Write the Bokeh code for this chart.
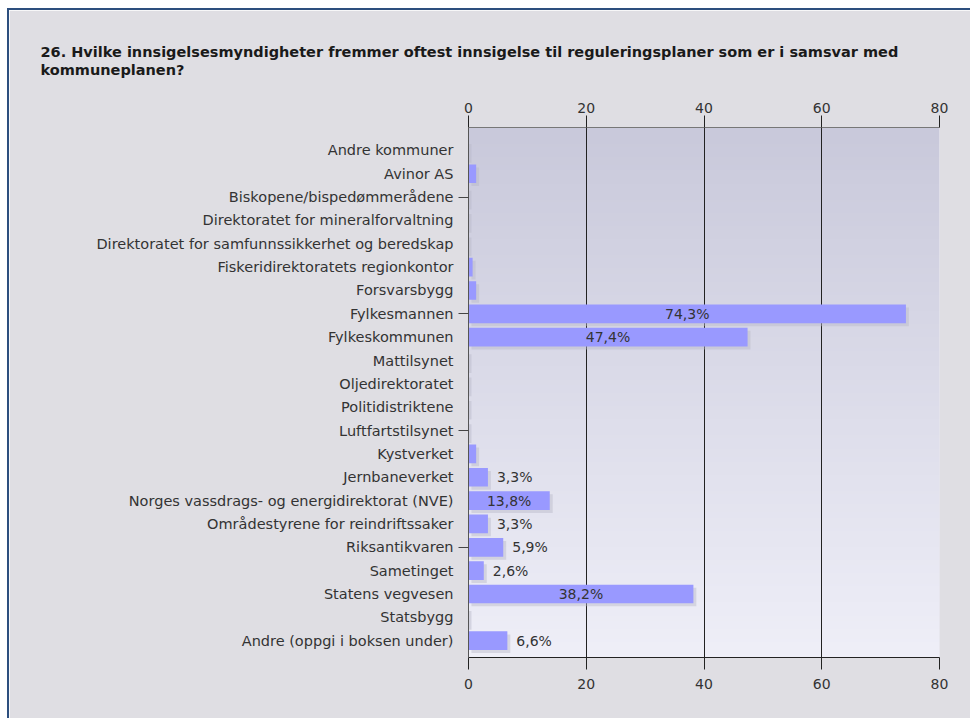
import numpy as np
from bokeh.plotting import figure
from bokeh.models import Range1d, LinearAxis, FixedTicker, ColumnDataSource, Title
from bokeh.core.properties import value
from bokeh.embed import file_html
from bokeh.resources import INLINE

title_lines = [
    "26. Hvilke innsigelsesmyndigheter fremmer oftest innsigelse til reguleringsplaner som er i samsvar med",
    "kommuneplanen?",
]
categories = [
    "Andre kommuner",
    "Avinor AS",
    "Biskopene/bispedømmerådene",
    "Direktoratet for mineralforvaltning",
    "Direktoratet for samfunnssikkerhet og beredskap",
    "Fiskeridirektoratets regionkontor",
    "Forsvarsbygg",
    "Fylkesmannen",
    "Fylkeskommunen",
    "Mattilsynet",
    "Oljedirektoratet",
    "Politidistriktene",
    "Luftfartstilsynet",
    "Kystverket",
    "Jernbaneverket",
    "Norges vassdrags- og energidirektorat (NVE)",
    "Områdestyrene for reindriftssaker",
    "Riksantikvaren",
    "Sametinget",
    "Statens vegvesen",
    "Statsbygg",
    "Andre (oppgi i boksen under)",
]
values = [0, 1.3, 0, 0, 0, 0.7, 1.3, 74.3, 47.4, 0, 0, 0, 0, 1.3, 3.3, 13.8, 3.3, 5.9, 2.6, 38.2, 0, 6.6]
x_ticks = [0, 20, 40, 60, 80]
marked_categories = [2, 7, 12, 17]

FONT = "DejaVu Sans"
n = len(categories)
ypos = [n - 1 - i for i in range(n)]

W, H = 963, 710
ML, MR, MT, MB = 459, 33, 117, 63
p = figure(width=W, height=H, output_backend="svg", toolbar_location=None,
           x_range=Range1d(0, 80), y_range=Range1d(-0.72, n - 1 + 0.98),
           min_border_left=ML, min_border_right=MR, min_border_top=MT, min_border_bottom=MB,
           x_axis_location=None, y_axis_location=None)
p.styles = {"margin-top": "8px", "margin-left": "7px",
            "border-top": "2px solid #2d4f7e", "border-left": "2px solid #2d4f7e",
            "border-right": "none", "border-bottom": "none"}
p.background_fill_color = "#dddce8"
p.border_fill_color = "#dfdee3"
p.outline_line_color = None

# gradient background of plot area
top_c = np.array([0xC9, 0xC9, 0xDB])
bot_c = np.array([0xEF, 0xEF, 0xF8])
rows = 200
t = np.linspace(0, 1, rows)[:, None]
cols = bot_c * (1 - t) + top_c * t
img = np.zeros((rows, 1), dtype=np.uint32)
view = img.view(dtype=np.uint8).reshape((rows, 1, 4))
view[:, 0, 0] = cols[:, 0].astype(np.uint8)
view[:, 0, 1] = cols[:, 1].astype(np.uint8)
view[:, 0, 2] = cols[:, 2].astype(np.uint8)
view[:, 0, 3] = 255
yr = p.y_range
p.image_rgba(image=[img], x=0, y=yr.start, dw=80, dh=yr.end - yr.start, level="image")

# axes
ax_b = LinearAxis(ticker=FixedTicker(ticks=x_ticks))
ax_t = LinearAxis(ticker=FixedTicker(ticks=x_ticks))
for ax, lc, so in ((ax_b, "#222222", 9), (ax_t, "#777777", 3)):
    ax.axis_line_color = lc
    ax.major_tick_line_color = "#222222"
    ax.major_tick_out = 12
    ax.major_tick_in = 0
    ax.minor_tick_line_color = None
    ax.major_label_text_font = FONT
    ax.major_label_text_font_size = "14px"
    ax.major_label_text_color = "#333333"
    ax.major_label_standoff = so
p.add_layout(ax_b, "below")
p.add_layout(ax_t, "above")

ax_l = LinearAxis(ticker=FixedTicker(ticks=ypos, minor_ticks=[ypos[i] for i in marked_categories]))
ax_l.major_label_overrides = {ypos[i]: categories[i] for i in range(n)}
ax_l.axis_line_color = "#555555"
ax_l.major_tick_line_color = None
ax_l.major_tick_out = 0
ax_l.minor_tick_line_color = "#444444"
ax_l.minor_tick_out = 10
ax_l.minor_tick_in = 0
ax_l.major_label_standoff = 5
ax_l.major_label_text_font = FONT
ax_l.major_label_text_font_size = "14.5px"
ax_l.major_label_text_color = "#333333"
p.add_layout(ax_l, "left")

p.xgrid.ticker = FixedTicker(ticks=x_ticks)
p.xgrid.grid_line_color = "#222222"
p.xgrid.grid_line_width = 1
p.ygrid.grid_line_color = None

src = ColumnDataSource(dict(y=ypos, v=values,
                            sy=[y - 0.13 for y in ypos],
                            sl=[0.5] * n,
                            sr=[v + 0.5 if v > 0 else 0 for v in values]))
p.hbar(y="sy", left="sl", right="sr", height=0.8, source=src,
       fill_color="#b8b8c8", fill_alpha=0.45, line_color=None)
p.hbar(y="y", left=0, right="v", height=0.8, source=src,
       fill_color="#9999ff", line_color=None)

# value labels
inside = dict(x=[], y=[], t=[])
outside = dict(x=[], y=[], t=[])
for v, y in zip(values, ypos):
    if v < 2:
        continue
    txt = f"{v:.1f}".replace(".", ",") + "%"
    if v > 10:
        inside["x"].append(v / 2); inside["y"].append(y); inside["t"].append(txt)
    else:
        outside["x"].append(v); outside["y"].append(y); outside["t"].append(txt)
p.text(x="x", y="y", text="t", source=ColumnDataSource(inside), text_align="center",
       text_baseline="middle", text_font=value(FONT), text_font_size="14px", text_color="#333333")
p.text(x="x", y="y", text="t", source=ColumnDataSource(outside), text_align="left",
       text_baseline="middle", x_offset=9, text_font=value(FONT), text_font_size="14px",
       text_color="#333333")

# title (two lines in one title, above the top axis)
p.add_layout(Title(text="\n".join(title_lines), align="left", offset=31 - ML, standoff=42,
                   text_font=FONT, text_font_size="14.5px", text_font_style="bold",
                   text_color="#1a1a1a", text_line_height=1.15), "above")

open("out.html", "w").write(file_html(p, INLINE))
